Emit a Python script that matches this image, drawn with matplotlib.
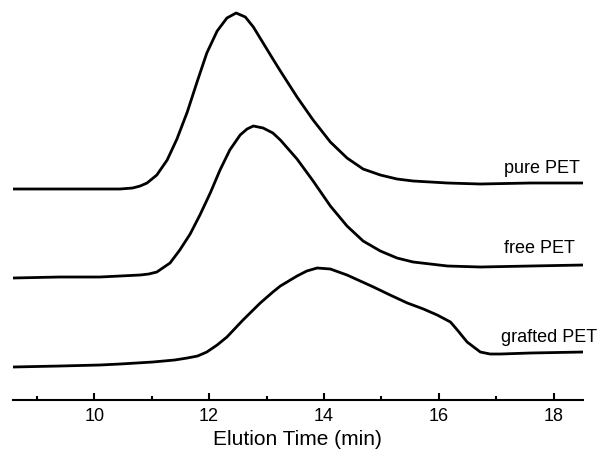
import numpy as np
import matplotlib
matplotlib.use('Agg')
import matplotlib.pyplot as plt

plt.rcParams['font.family'] = ['Liberation Sans', 'DejaVu Sans']

# elution time (min) and detector signal (arb. units, already offset per trace)
pure_t = [8.58, 9.40, 10.10, 10.45, 10.67, 10.80, 10.92, 11.09, 11.27, 11.44, 11.62, 11.79, 11.96, 12.14,
          12.31, 12.47, 12.63, 12.77, 12.94, 13.11, 13.24, 13.53, 13.81, 14.11, 14.40, 14.68, 14.98,
          15.27, 15.55, 15.85, 16.15, 16.72, 17.59, 18.51]
pure_s = [211, 211, 211, 211, 212, 214, 217, 225, 240, 261, 288, 318, 347, 369,
          382, 387, 383, 373, 357, 341, 329, 303, 280, 258, 242, 231, 225,
          221, 219, 218, 217, 216, 217, 217]

free_t = [8.58, 9.40, 10.10, 10.45, 10.80, 10.95, 11.09, 11.32, 11.49, 11.67, 11.84, 12.02, 12.19, 12.36,
          12.54, 12.66, 12.77, 12.94, 13.11, 13.24, 13.53, 13.81, 14.11, 14.40, 14.68, 14.98, 15.27,
          15.55, 16.15, 16.72, 17.59, 18.51]
free_s = [122, 123, 123, 124, 125, 126, 128, 137, 150, 166, 185, 207, 230, 250,
          265, 271, 274, 272, 267, 260, 241, 219, 194, 174, 159, 149, 142,
          138, 134, 133, 134, 135]

graft_t = [8.58, 9.40, 10.10, 10.45, 11.02, 11.40, 11.62, 11.80, 11.96, 12.14, 12.31, 12.59, 12.89, 13.11,
           13.24, 13.53, 13.70, 13.88, 14.11, 14.40, 14.86, 15.15, 15.45, 15.73, 15.97, 16.20, 16.32,
           16.49, 16.72, 16.89, 17.07, 17.59, 18.51]
graft_s = [33, 34, 35, 36, 38, 40, 42, 44, 48, 55, 63, 80, 97, 108,
           114, 124, 129, 132, 131, 125, 113, 105, 97, 91, 85, 78, 70,
           58, 48, 46, 46, 47, 48]

labels = ['pure PET', 'free PET', 'grafted PET']
label_pos = [(18.46, 227), (18.37, 147), (18.75, 58)]

fig = plt.figure(figsize=(6, 4.57), dpi=100)
ax = fig.add_axes([0.021, 0.1247, 0.95, 0.8753])

for t, s in [(pure_t, pure_s), (free_t, free_s), (graft_t, graft_s)]:
    ax.plot(t, s, color='black', lw=2.0, solid_joinstyle='round', solid_capstyle='round')

for lab, (x, y) in zip(labels, label_pos):
    ax.text(x, y, lab, ha='right', va='baseline', fontsize=13, clip_on=False)

ax.set_xlim(8.58, 18.5)
ax.set_ylim(0, 400)
ax.set_xticks([10, 12, 14, 16, 18])
ax.set_xticks([9, 11, 13, 15, 17], minor=True)
ax.set_yticks([])
for side in ['top', 'right', 'left']:
    ax.spines[side].set_visible(False)
ax.spines['bottom'].set_linewidth(1.5)
ax.tick_params(axis='x', which='major', direction='in', length=5, width=1.5, pad=6, labelsize=13)
ax.tick_params(axis='x', which='minor', direction='in', length=3, width=1.5)
ax.set_xlabel('Elution Time (min)', fontsize=15, labelpad=3)

plt.savefig('out.png', dpi=100)
